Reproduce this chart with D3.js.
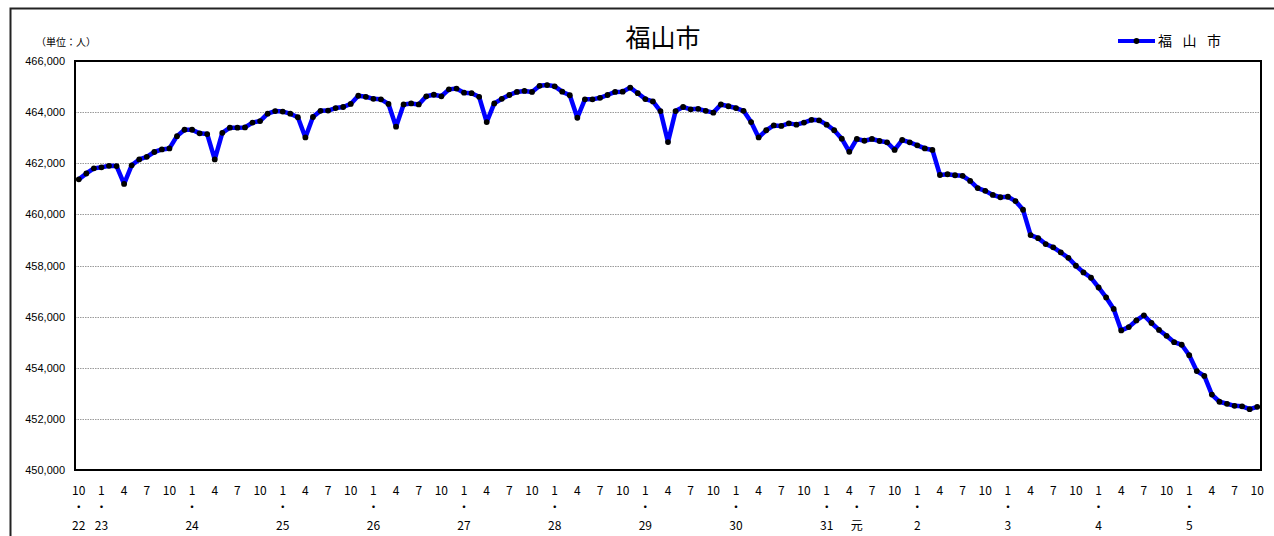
<!DOCTYPE html>
<html lang="ja">
<head>
<meta charset="UTF-8">
<title>福山市</title>
<script src="https://d3js.org/d3.v7.min.js"></script>
<style>
  body { margin: 0; padding: 0; background: #fff; }
  svg { display: block; }
  .grid line { stroke: #9a9a9a; stroke-width: 1; stroke-dasharray: 1.5,1; }
  .ylab text { font-family: "Liberation Sans", Arial, sans-serif; font-size: 11px; fill: #000; }
  .xlab text { font-family: "Noto Sans CJK JP", sans-serif; font-size: 12px; fill: #000; }
</style>
</head>
<body>
<svg width="1274" height="536"></svg>
<script>
// 人口（H22.10 〜 R5.10、月次）
const values = [
  461370, 461600, 461800,
  461840, 461900, 461890, 461190, 461920, 462150, 462250, 462440, 462540, 462580, 463060, 463310,
  463310, 463170, 463140, 462150, 463190, 463390, 463390, 463400, 463590, 463650, 463940, 464040,
  464020, 463940, 463800, 463010, 463810, 464050, 464060, 464160, 464200, 464320, 464640, 464600,
  464520, 464500, 464320, 463430, 464300, 464340, 464300, 464620, 464680, 464620, 464890, 464920,
  464760, 464740, 464600, 463610, 464340, 464520, 464670, 464790, 464830, 464790, 465030, 465060,
  465010, 464800, 464660, 463780, 464500, 464500, 464560, 464670, 464790, 464800, 464960, 464740,
  464510, 464420, 464040, 462830, 464040, 464200, 464110, 464130, 464050, 463980, 464300, 464230,
  464160, 464050, 463610, 463010, 463290, 463480, 463460, 463560, 463510, 463590, 463700, 463680,
  463510, 463290, 462960, 462450, 462950, 462880, 462950, 462870, 462820, 462520, 462910, 462820,
  462700, 462580, 462520, 461540, 461570, 461530, 461510, 461310, 461030, 460920, 460760, 460670,
  460690, 460520, 460180, 459190, 459070, 458840, 458710, 458510, 458300, 457990, 457730, 457520,
  457140, 456750, 456300, 455460, 455590, 455850, 456050, 455750, 455480, 455250, 455000, 454900,
  454490, 453870, 453680, 452950, 452670, 452590, 452510, 452490, 452380, 452470
];
const startMonth = 10;              // H22.10
const monthTicks = [1, 4, 7, 10];
const yearLabels = [
  [0, "22"], [3, "23"], [15, "24"], [27, "25"], [39, "26"], [51, "27"], [63, "28"],
  [75, "29"], [87, "30"], [99, "31"], [103, "元"], [111, "2"], [123, "3"], [135, "4"], [147, "5"]
];
const yTicks = [450000, 452000, 454000, 456000, 458000, 460000, 462000, 464000, 466000];
const seriesName = "福山市";
const title = "福山市";
const unit = "（単位：人）";

const svg = d3.select("svg");
const m = { left: 75, right: 1261, top: 61, bottom: 470 };

// 外枠
svg.append("rect")
  .attr("x", 10.5).attr("y", 8.5).attr("width", 1300).attr("height", 600)
  .attr("fill", "none").attr("stroke", "#222").attr("stroke-width", 2);

const idx = d3.range(values.length);
const x = d3.scalePoint().domain(idx).range([m.left, m.right]).padding(0.5);
const y = d3.scaleLinear().domain([450000, 466000]).range([m.bottom, m.top]);

// グリッド
svg.append("g").attr("class", "grid")
  .selectAll("line").data(yTicks.slice(1, -1)).enter().append("line")
  .attr("x1", m.left).attr("x2", m.right)
  .attr("y1", d => Math.round(y(d)) + 0.5).attr("y2", d => Math.round(y(d)) + 0.5);

// プロット枠
svg.append("rect")
  .attr("x", m.left).attr("y", m.top)
  .attr("width", m.right - m.left).attr("height", m.bottom - m.top)
  .attr("fill", "none").attr("stroke", "#000").attr("stroke-width", 2);

// Y軸ラベル
const fmt = d3.format(",");
svg.append("g").attr("class", "ylab")
  .selectAll("text").data(yTicks).enter().append("text")
  .attr("x", 65).attr("y", d => y(d) + 4)
  .attr("text-anchor", "end")
  .text(d => fmt(d));

// X軸ラベル
const monthOf = i => ((startMonth - 1 + i) % 12) + 1;
const xl = svg.append("g").attr("class", "xlab");
xl.selectAll("text.m").data(idx.filter(i => monthTicks.includes(monthOf(i)))).enter()
  .append("text").attr("class", "m")
  .attr("x", i => x(i)).attr("y", 495)
  .attr("text-anchor", "middle")
  .text(i => monthOf(i));
xl.selectAll("text.d").data(yearLabels).enter()
  .append("text").attr("class", "d")
  .attr("x", d => x(d[0])).attr("y", 512)
  .attr("text-anchor", "middle")
  .text("・");
xl.selectAll("text.y").data(yearLabels).enter()
  .append("text").attr("class", "y")
  .attr("x", d => x(d[0])).attr("y", 530)
  .attr("text-anchor", "middle")
  .text(d => d[1]);

// 系列
const line = d3.line().x((d, i) => x(i)).y(d => y(d));
svg.append("path").datum(values)
  .attr("d", line)
  .attr("fill", "none").attr("stroke", "#0000ff")
  .attr("stroke-width", 4.5).attr("stroke-linejoin", "round");
svg.append("g").selectAll("circle").data(values).enter().append("circle")
  .attr("cx", (d, i) => x(i)).attr("cy", d => y(d))
  .attr("r", 2.9).attr("fill", "#000");

// タイトル・単位
svg.append("text")
  .attr("x", 663).attr("y", 47).attr("text-anchor", "middle")
  .style("font-family", "'Noto Sans CJK JP', sans-serif").style("font-size", "25px")
  .text(title);
svg.append("text")
  .attr("x", 36).attr("y", 46)
  .style("font-family", "'Noto Sans CJK JP', sans-serif").style("font-size", "10px")
  .text(unit);

// 凡例
const lg = svg.append("g");
lg.append("line").attr("x1", 1118).attr("x2", 1155).attr("y1", 41).attr("y2", 41)
  .attr("stroke", "#0000ff").attr("stroke-width", 4);
lg.append("circle").attr("cx", 1136.5).attr("cy", 41).attr("r", 2.9).attr("fill", "#000");
lg.append("text").attr("x", 1158).attr("y", 46)
  .style("font-family", "'Noto Sans CJK JP', sans-serif").style("font-size", "14px")
  .style("letter-spacing", "10.5px")
  .text(seriesName);
</script>
</body>
</html>
